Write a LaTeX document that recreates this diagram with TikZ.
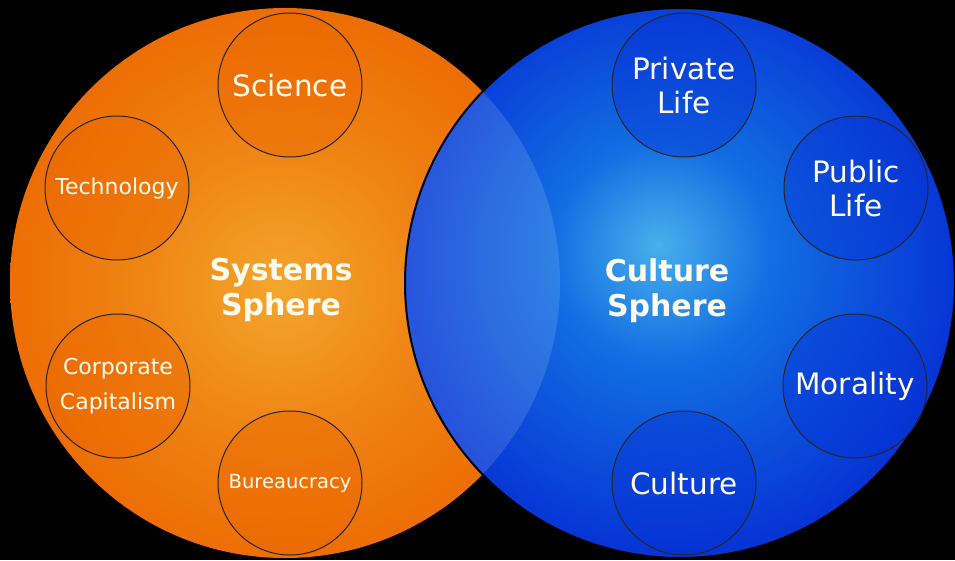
\documentclass[tikz,border=0pt]{standalone}
\usepackage{fontspec}
\setmainfont{DejaVu Sans}
\usetikzlibrary{positioning}

\definecolor{sysrim}{RGB}{236,102,0}
\definecolor{sysmid}{RGB}{239,132,20}
\definecolor{sysglow}{RGB}{243,166,46}
\definecolor{culrim}{RGB}{6,50,212}
\definecolor{culmid}{RGB}{18,110,226}
\definecolor{culglow}{RGB}{72,176,236}
\definecolor{labeltext}{RGB}{255,251,238}

% glow of the two spheres
\pgfdeclareradialshading{sysshade}{\pgfpoint{-0.5bp}{-0.5bp}}{%
  color(0bp)=(sysglow); color(13bp)=(sysmid); color(29bp)=(sysrim); color(50bp)=(sysrim)}
\pgfdeclareradialshading{culshade}{\pgfpoint{-2bp}{3.5bp}}{%
  color(0bp)=(culglow); color(10bp)=(culmid); color(27bp)=(culrim); color(50bp)=(culrim)}

\tikzset{
  sphere/.style={circle, minimum size=550pt, inner sep=0pt},
  ring/.style={circle, draw=black!85, line width=1pt, minimum size=144pt,
    inner sep=0pt, align=center, text=labeltext, text opacity=1, fill opacity=0.4},
  bigtext/.style={font=\fontsize{29.5}{34}\selectfont},
  midtext/.style={font=\fontsize{22}{35}\selectfont},
  smalltext/.style={font=\fontsize{19.5}{24}\selectfont},
  headtext/.style={font=\bfseries\fontsize{30}{35}\selectfont, align=center, text=labeltext}
}

\begin{document}
\begin{tikzpicture}[x=1pt, y=-1pt]
\fill[black] (0,0) rectangle (955,560);
\useasboundingbox (0,0) rectangle (955,560);

% the two spheres
\node[sphere, shading=sysshade] (sys) at (285,283) {};
\node[sphere, shading=culshade] (cul) at (680,283) {};

% overlap is a bit lighter
\begin{scope}
  \clip (sys.center) circle (275);
  \fill[white, fill opacity=0.13] (cul.center) circle (275);
\end{scope}
\draw[black, line width=2pt] (cul.center) circle (275);

% systems side
\node[ring, fill=sysrim, bigtext] (science) at (290,85) {Science};
\node[ring, fill=sysrim, midtext] (tech) at (117,188) {Technology};
\node[ring, fill=sysrim, midtext] (corp) at (118,386) {Corporate\\Capitalism};
\node[ring, fill=sysrim, smalltext] (bureau) at (290,483) {Bureaucracy};

% culture side
\node[ring, fill=culrim, bigtext] (private) at (684,85) {Private\\Life};
\node[ring, fill=culrim, bigtext] (public) at (856,188) {Public\\Life};
\node[ring, fill=culrim, bigtext] (moral) at (855,386) {Morality};
\node[ring, fill=culrim, bigtext] (culture) at (684,483) {Culture};

\node[headtext] (syslabel) at (281,290) {Systems\\Sphere};
\node[headtext] (cullabel) at (667,291) {Culture\\Sphere};
\end{tikzpicture}
\end{document}
